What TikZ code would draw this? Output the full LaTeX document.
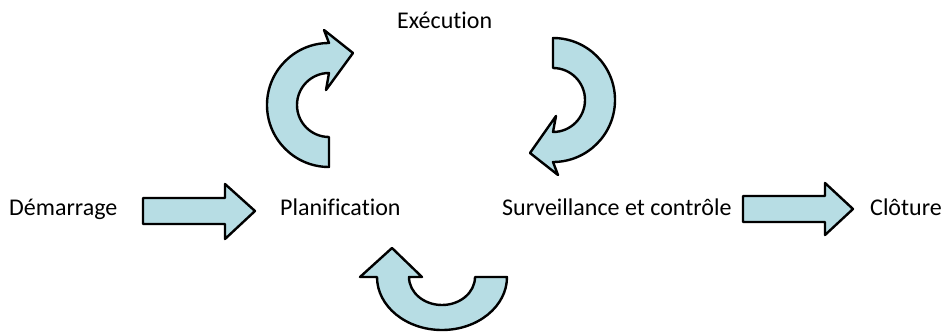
\documentclass[tikz,border=0pt]{standalone}
\usepackage{fontspec}
\setmainfont{Carlito}[Ligatures={NoCommon}]
\definecolor{arrowfill}{RGB}{183,221,228}
\begin{document}
\begin{tikzpicture}[x=1pt,y=-1pt,
  blockarrow/.style={fill=arrowfill, draw=black, line width=2.4pt, line join=round},
  txt/.style={anchor=base west, inner sep=0pt, font=\fontsize{24}{28}\selectfont}]
\useasboundingbox (0,0) rectangle (942,332);
% texts
\node[txt] (dem) at (9,215) {Démarrage};
\node[txt] (plan) at (280,215) {Planification};
\node[txt] (surv) at (502,215) {Surveillance et contrôle};
\node[txt] (clo) at (870,215) {Clôture};
\node[txt] (exe) at (397,28) {Exécution};
% straight block arrows
\draw[blockarrow] (143,198) -- (225,198) -- (225,184) -- (255,211) -- (225,239) -- (225,224) -- (143,224) -- cycle;
\draw[blockarrow] (743,196) -- (825,196) -- (825,183) -- (853,209) -- (825,235) -- (825,222) -- (743,222) -- cycle;
% curved arrow top-left
\draw[blockarrow] (329,137) -- (329,167) arc[start angle=90, end angle=270, radius=62]
  -- (324,30) -- (353,53) -- (326,90) -- (329,73)
  arc[start angle=270, end angle=90, radius=32] -- cycle;
% curved arrow top-right
\draw[blockarrow] (553,68) -- (553,38) arc[start angle=270, end angle=450, radius=62]
  -- (558,175) -- (530,153) -- (556,116) -- (553,132)
  arc[start angle=90, end angle=-90, radius=32] -- cycle;
% curved arrow bottom
\draw[blockarrow] (475,277) -- (507,277) arc[start angle=0, end angle=180, x radius=65, y radius=53]
  -- (360,277) -- (392,248) -- (422,277) -- (409,277)
  arc[start angle=180, end angle=0, x radius=33, y radius=28] -- cycle;
\end{tikzpicture}
\end{document}
